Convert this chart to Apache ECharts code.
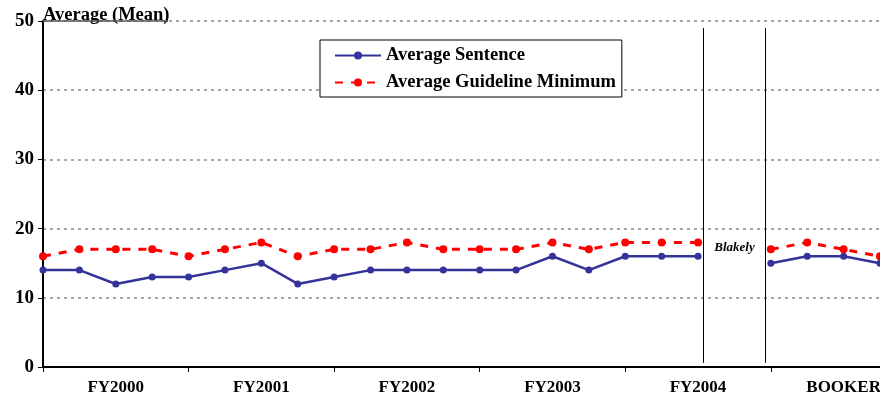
<!DOCTYPE html>
<html><head><meta charset="utf-8">
<script src="https://cdn.jsdelivr.net/npm/echarts@6/dist/echarts.min.js"></script>
<style>html,body{margin:0;padding:0;background:#fff}#c{width:880px;height:400px}</style>
</head><body><div id="c"></div>
<script>
const categories = [
 'FY2000 Q1','FY2000 Q2','FY2000 Q3','FY2000 Q4',
 'FY2001 Q1','FY2001 Q2','FY2001 Q3','FY2001 Q4',
 'FY2002 Q1','FY2002 Q2','FY2002 Q3','FY2002 Q4',
 'FY2003 Q1','FY2003 Q2','FY2003 Q3','FY2003 Q4',
 'FY2004 Q1','FY2004 Q2','FY2004 Q3','Blakely',
 'BOOKER 1','BOOKER 2','BOOKER 3','BOOKER 4'];
const groupLabels = ['FY2000','FY2001','FY2002','FY2003','FY2004','BOOKER'];
const avgSentence = [14,14,12,13,13,14,15,12,13,14,14,14,14,14,16,14,16,16,16,null,15,16,16,15];
const avgGuidelineMin = [16,17,17,17,16,17,18,16,17,17,18,17,17,17,18,17,18,18,18,null,17,18,17,16];
const yTicks = [0,10,20,30,40,50];
const blakelyBounds = [18.14, 19.86];

const serif = 'Liberation Serif';
const chart = echarts.init(document.getElementById('c'));
chart.setOption({
  animation: false,
  backgroundColor: '#fff',
  grid: {left: 43, right: 0, top: 21, bottom: 33, outerBoundsMode: 'none', containLabel: false},
  title: {text: 'Average (Mean)', left: 38, top: 1,
    textStyle: {fontFamily: serif, fontWeight: 'bold', fontSize: 18.5, color: '#000'}},
  legend: {
    orient: 'vertical', left: 320, top: 40,
    backgroundColor: '#fff', borderColor: '#000', borderWidth: 1,
    padding: [6, 6, 5, 14], itemGap: 8, itemWidth: 46, itemHeight: 10,
    textStyle: {fontFamily: serif, fontWeight: 'bold', fontSize: 18.5, color: '#000'},
    data: ['Average Sentence', 'Average Guideline Minimum']
  },
  xAxis: [{
    type: 'category', data: categories, boundaryGap: false,
    axisLine: {lineStyle: {color: '#000', width: 2}},
    axisTick: {show: true, length: 5, interval: (i) => i % 4 === 0, lineStyle: {color: '#000', width: 1}},
    axisLabel: {interval: 0, margin: 12, fontFamily: serif, fontWeight: 'bold', fontSize: 17, color: '#000',
      formatter: (v, i) => (i % 4 === 2 ? groupLabels[(i / 4) | 0] : '')},
    splitLine: {show: false}
  }, {
    type: 'value', min: 0, max: categories.length - 1, show: false
  }],
  yAxis: {
    type: 'value', min: yTicks[0], max: yTicks[yTicks.length - 1], interval: 10,
    axisLine: {show: true, lineStyle: {color: '#000', width: 2}},
    axisTick: {show: true, length: 5, lineStyle: {color: '#000'}},
    axisLabel: {margin: 9, fontFamily: serif, fontWeight: 'bold', fontSize: 19, color: '#000'},
    splitLine: {show: true, lineStyle: {color: '#888', type: [3, 4], width: 1.5}}
  },
  graphic: [{type: 'line', shape: {x1: 43, y1: 21, x2: 168, y2: 21}, style: {stroke: '#555', lineWidth: 1.5}, z: 100}],
  series: [{
    name: 'Average Sentence', type: 'line', data: avgSentence,
    color: '#333399', symbol: 'circle', symbolSize: 7,
    lineStyle: {color: '#333399', width: 2.5}, itemStyle: {color: '#333399'}, z: 3
  }, {
    name: 'Average Guideline Minimum', type: 'line', data: avgGuidelineMin,
    color: '#ff0000', symbol: 'circle', symbolSize: 8,
    lineStyle: {color: '#ff0000', width: 3, type: [8, 8]}, itemStyle: {color: '#ff0000'}, z: 4
  }, {
    name: 'blakely', type: 'line', xAxisIndex: 1, data: [], silent: true,
    markLine: {
      symbol: 'none', silent: true, label: {show: false},
      lineStyle: {color: '#000', type: 'solid', width: 1},
      data: blakelyBounds.map(x => [{coord: [x, 49]}, {coord: [x, 0.6]}])
    },
    markPoint: {
      symbol: 'circle', symbolSize: 0,
      label: {show: true, formatter: 'Blakely', color: '#000', fontFamily: serif, fontStyle: 'italic', fontWeight: 'bold', fontSize: 13},
      data: [{coord: [19, 17.3]}]
    }
  }]
});
</script></body></html>
